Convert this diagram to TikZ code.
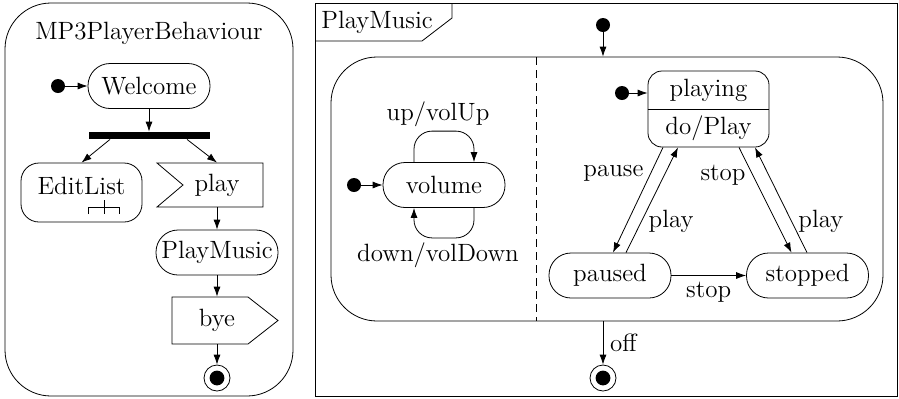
\documentclass[tikz,border=0pt]{standalone}
\usepackage{amsmath}
\usetikzlibrary{arrows.meta}

\tikzset{
  state/.style={draw,rounded corners=11pt,minimum width=61pt,minimum height=22.5pt,inner sep=0pt},
  start/.style={circle,fill,inner sep=0pt,minimum size=7pt},
  final/.style={circle,draw,inner sep=0pt,minimum size=13pt,
    path picture={\fill (path picture bounding box.center) circle (3.7pt);}},
  forkbar/.style={fill,minimum width=60.5pt,minimum height=3.5pt,inner sep=0pt},
  trans/.style={-{Latex[length=5pt,width=3.5pt]}},
}

\begin{document}
\begin{tikzpicture}[x=0.5pt,y=-0.5pt,font=\fontsize{12.5}{15}\selectfont]
  \useasboundingbox (0,0) rectangle (899,398);
  \draw[rounded corners=23pt] (5,3) rectangle (293,396);
  \node (actname) at (149,33) {MP3PlayerBehaviour};
  \node[start] (a0) at (58,86) {};
  \node[state] (welcome) at (149,86) {Welcome};
  \node[forkbar] (fork) at (149.5,135.5) {};
  \node[draw,rounded corners=9pt,minimum width=60.5pt,minimum height=29.5pt] (edit) at (81.5,192.5) {};
  \node (editname) at (81.5,186) {EditList};
  \draw (88,214) |- (119,207) -- (119,214) (104,200) -- (104,214);
  \draw (157,163) -- (263,163) -- (263,207) -- (157,207) -- (183,185) -- cycle;
  \node[minimum height=22pt,inner sep=0pt] (play) at (217,185) {play};
  \node[state] (playmusic) at (217,252.5) {PlayMusic};
  \draw (172,297) -- (248,297) -- (278,320.5) -- (248,344) -- (172,344) -- cycle;
  \node[minimum height=23.5pt,inner sep=0pt] (bye) at (217,320.5) {bye};
  \node[final] (a1) at (217,378) {};
  \draw[trans] (a0) -- (welcome);
  \draw[trans] (welcome.south) -- (welcome.south |- fork.north);
  \draw[trans] ([xshift=-19.75pt]fork.south) -- (edit.north);
  \draw[trans] ([xshift=18.75pt]fork.south) -- (play.north);
  \draw[trans] (play.south) -- (playmusic);
  \draw[trans] (playmusic) -- (bye.north);
  \draw[trans] (bye.south) -- (a1);

  \draw (315,3) rectangle (897,396);
  \draw (315,41) -- (422,41) -- (452,18) -- (452,3);
  \node (smname) at (377,22) {PlayMusic};
  \node[start] (s0) at (603,25) {};
  \node[draw,rounded corners=23pt,minimum width=276pt,minimum height=132pt] (comp) at (607,189) {};
  \draw[dash pattern=on 4pt off 2.5pt] (536,57) -- (536,321);
  \node[start] (v0) at (354,185) {};
  \node[state] (volume) at (444,185) {volume};
  \node[draw,rounded corners=7pt,minimum width=60.5pt,minimum height=38pt] (playing) at (708.5,109) {};
  \draw (playing.west) -- (playing.east);
  \node (playingname) at (708.5,90) {playing};
  \node (playingdo) at (708.5,128) {do/Play};
  \node[start] (p0) at (622,93) {};
  \node[state] (paused) at (610,275.5) {paused};
  \node[state] (stopped) at (807.5,275.5) {stopped};
  \node[final] (s1) at (603,378) {};
  \draw[trans] (s0) -- (s0 |- comp.north);
  \draw[trans] (s1 |- comp.south) -- (s1) node[midway,right] {off};
  \draw[trans] (v0) -- (volume);
  \draw[trans,rounded corners=9pt] ([xshift=-15pt]volume.north) -- ++(0,-31)
    -| node[pos=0.2,above,inner sep=2pt] {up/volUp} ([xshift=15pt]volume.north);
  \draw[trans,rounded corners=9pt] ([xshift=15pt]volume.south) -- ++(0,30)
    -| node[pos=0.3,below,inner sep=2pt] {down/volDown} ([xshift=-15pt]volume.south);
  \draw[trans] (p0) -- (p0 -| playing.west);
  \draw[trans] ([xshift=-22.75pt]playing.south) -- ([xshift=1.5pt]paused.north) node[pos=0.25,left] {pause};
  \draw[trans] ([xshift=8pt]paused.north) -- ([xshift=-15.25pt]playing.south) node[pos=0.3,right] {play};
  \draw[trans] ([xshift=15.25pt]playing.south) -- ([xshift=-8pt]stopped.north) node[pos=0.26,left] {stop};
  \draw[trans] ([xshift=-0.25pt]stopped.north) -- ([xshift=23.25pt]playing.south) node[pos=0.3,right] {play};
  \draw[trans] (paused) -- (stopped) node[midway,below] {stop};
\end{tikzpicture}
\end{document}
